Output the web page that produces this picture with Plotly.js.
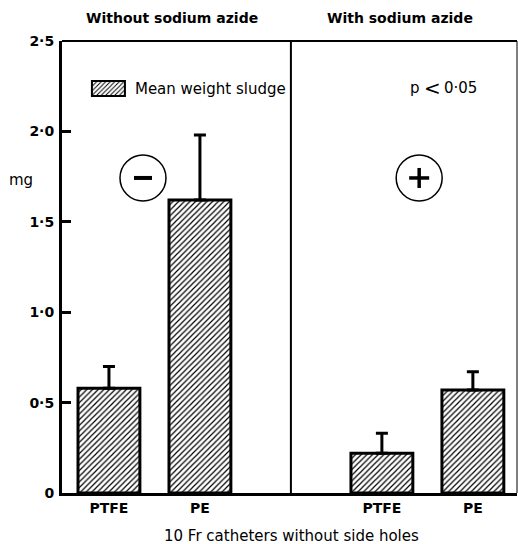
<!DOCTYPE html>
<html>
<head>
<meta charset="utf-8">
<script src="https://cdn.plot.ly/plotly-3.0.1.min.js"></script>
<style>html,body{margin:0;padding:0;background:#fff;}#chart{width:518px;height:544px;}</style>
</head>
<body>
<div id="chart"></div>
<script>
// Data
const categories = ["PTFE", "PE", "PTFE", "PE"];
const xPositions = [0, 1, 3, 4];          // left group: without azide, right group: with azide
const meanWeight = [0.58, 1.62, 0.22, 0.57];   // mg
const sdUpper   = [0.12, 0.36, 0.11, 0.10];    // upward error bar length, mg
const yTickVals  = [0, 0.5, 1.0, 1.5, 2.0, 2.5];
const yTickText  = ["0", "0·5", "1·0", "1·5", "2·0", "2·5"];
const groupTitles = ["Without sodium azide", "With sodium azide"];
const seriesName = "Mean weight sludge";

const FONT = "DejaVu Sans, Verdana, sans-serif";

const trace = {
  type: "bar",
  x: xPositions,
  y: meanWeight,
  name: seriesName,
  width: 0.68,
  marker: {
    color: "#ffffff",
    line: {color: "#000", width: 3},
    pattern: {shape: "/", fgcolor: "#000", bgcolor: "#fff", size: 4, solidity: 0.3}
  },
  error_y: {
    type: "data", symmetric: false, array: sdUpper, arrayminus: [0,0,0,0],
    color: "#000", thickness: 3, width: 6
  },
  showlegend: true,
  hoverinfo: "none"
};

const txt = (text, x, y, size, extra) => Object.assign({
  text: text, xref: "paper", yref: "paper", x: x, y: y, showarrow: false,
  font: {family: FONT, size: size, color: "#000"}, xanchor: "center", yanchor: "middle"
}, extra || {});

const layout = {
  width: 518, height: 544,
  margin: {l: 62, r: 1, t: 41, b: 51},
  paper_bgcolor: "#fff", plot_bgcolor: "#fff",
  font: {family: FONT, color: "#000"},
  showlegend: true,
  legend: {
    x: 0.057, y: 0.9306, xanchor: "left", yanchor: "top",
    bgcolor: "rgba(0,0,0,0)", borderwidth: 0,
    font: {family: FONT, size: 15, color: "#000"}
  },
  xaxis: {
    range: [-0.516, 4.485],
    tickvals: xPositions, ticktext: categories,
    ticks: "", showgrid: false, zeroline: false,
    showline: true, linecolor: "#000", linewidth: 3,
    tickfont: {family: FONT, size: 14, color: "#000", weight: "bold"},
    fixedrange: true
  },
  yaxis: {
    range: [0, 2.5],
    tickvals: yTickVals, ticktext: yTickText,
    ticks: "inside", ticklen: 9, tickwidth: 3, tickcolor: "#000",
    showgrid: false, zeroline: false,
    showline: true, linecolor: "#000", linewidth: 3,
    tickfont: {family: FONT, size: 14, color: "#000", weight: "bold"},
    ticklabelstandoff: 2,
    fixedrange: true
  },
  shapes: [
    {type: "line", xref: "paper", yref: "paper", x0: 0, x1: 1, y0: 1, y1: 1, line: {color: "#000", width: 2}},
    {type: "line", xref: "paper", yref: "paper", x0: 1, x1: 1, y0: 0, y1: 1, line: {color: "#000", width: 1}},
    {type: "line", xref: "x", yref: "paper", x0: 2, x1: 2, y0: 0, y1: 1, line: {color: "#000", width: 2}},
    {type: "circle", xref: "paper", yref: "paper", xsizemode: "pixel", ysizemode: "pixel",
     xanchor: 0.178, yanchor: 0.697, x0: -23, x1: 23, y0: -23, y1: 23, line: {color: "#000", width: 1.5}},
    {type: "line", xref: "paper", yref: "paper", xsizemode: "pixel", ysizemode: "pixel",
     xanchor: 0.178, yanchor: 0.697, x0: -9, x1: 9, y0: 0, y1: 0, line: {color: "#000", width: 4}},
    {type: "circle", xref: "paper", yref: "paper", xsizemode: "pixel", ysizemode: "pixel",
     xanchor: 0.785, yanchor: 0.697, x0: -23, x1: 23, y0: -23, y1: 23, line: {color: "#000", width: 1.5}},
    {type: "line", xref: "paper", yref: "paper", xsizemode: "pixel", ysizemode: "pixel",
     xanchor: 0.785, yanchor: 0.697, x0: -10, x1: 10, y0: 0, y1: 0, line: {color: "#000", width: 3.5}},
    {type: "line", xref: "paper", yref: "paper", xsizemode: "pixel", ysizemode: "pixel",
     xanchor: 0.785, yanchor: 0.697, x0: 0, x1: 0, y0: -10, y1: 10, line: {color: "#000", width: 3.5}}
  ],
  annotations: [
    txt("<b>" + groupTitles[0] + "</b>", 0.242, 1.051, 14),
    txt("<b>" + groupTitles[1] + "</b>", 0.743, 1.051, 14),
    txt("mg", -0.09, 0.693, 15),
    txt("p", (422 - 62) / 455, 0.895, 15, {xanchor: "right"}),
    txt("&lt;", (432.5 - 62) / 455, 0.897, 20, {xanchor: "center"}),
    txt("0·05", (442 - 62) / 455, 0.895, 15, {xanchor: "left"}),
    txt("10 Fr catheters without side holes", 0.505, -0.095, 15)
  ]
};

Plotly.newPlot("chart", [trace], layout, {displayModeBar: false, staticPlot: true}).then(function (gd) {
  // Enlarge the legend swatch to the wide hatched box of the original key
  gd.querySelectorAll(".legend .legendpoints path").forEach(function (p) {
    p.setAttribute("d", "M-16,-7.5H17V7.5H-16Z");
    p.style.strokeWidth = "2px";
  });
  gd.querySelectorAll(".legend .legendtext").forEach(function (t) {
    t.setAttribute("x", "47");
  });
  // let the shifted legend text show in full
  gd.querySelectorAll(".legend [clip-path]").forEach(function (el) {
    el.removeAttribute("clip-path");
  });
});
</script>
</body>
</html>
